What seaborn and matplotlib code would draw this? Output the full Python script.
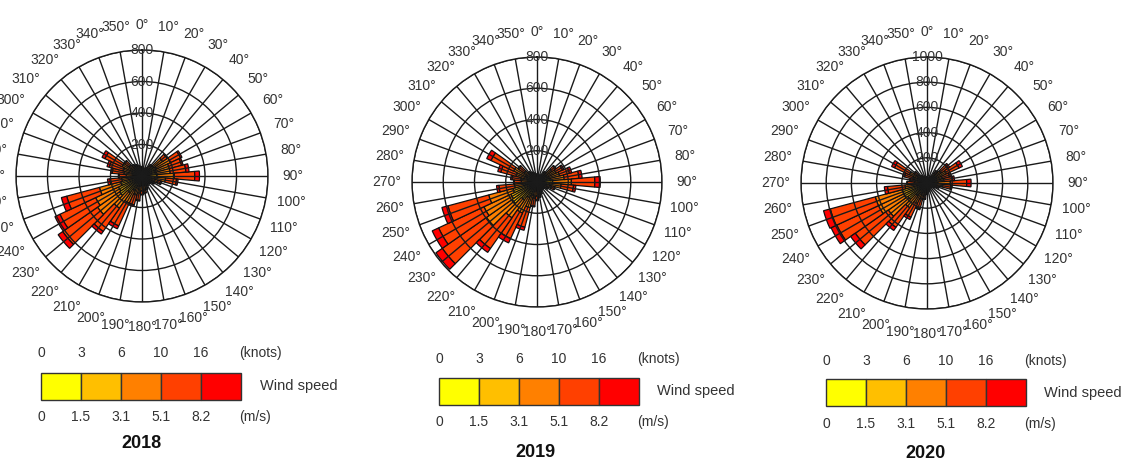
import numpy as np
import pandas as pd
import matplotlib
matplotlib.use("Agg")
import matplotlib.pyplot as plt
import seaborn as sns

# ---------------------------------------------------------------------------
# Data: counts per 10-degree sector, stacked by wind speed class
# ---------------------------------------------------------------------------
directions = list(range(0, 360, 10))
speed_classes = ["0-1.5", "1.5-3.1", "3.1-5.1", "5.1-8.2", ">8.2"]
class_colors = ["#FFFF00", "#FFBF00", "#FF8000", "#FF4000", "#FF0000"]
knots_labels = ["0", "3", "6", "10", "16"]
ms_labels = ["0", "1.5", "3.1", "5.1", "8.2"]
years = ["2018", "2019", "2020"]

#            0   10  20  30  40  50  60  70  80  90 100 110 120 130 140 150 160 170 180 190 200 210 220 230 240 250 260 270 280 290 300 310 320 330 340 350
c1_2018 = [15, 15, 15, 15, 15, 20, 20, 20, 20, 20, 20, 20, 20, 20, 20, 20, 20, 20, 20, 20, 20, 20, 20, 25, 25, 20, 15, 15, 15, 15, 15, 15, 15, 15, 15, 15]
c2_2018 = [25, 20, 20, 25, 35, 70, 80, 70, 70, 75, 60, 45, 35, 30, 25, 30, 35, 40, 40, 45, 50, 80, 110, 150, 140, 120, 55, 40, 45, 50, 55, 40, 35, 30, 30, 25]
c3_2018 = [15, 12, 12, 15, 28, 70, 100, 90, 90, 110, 70, 40, 25, 15, 12, 15, 25, 30, 35, 45, 55, 90, 120, 170, 160, 140, 60, 45, 55, 60, 70, 45, 25, 25, 20, 15]
c4_2018 = [5, 3, 3, 5, 12, 35, 70, 80, 100, 130, 70, 20, 10, 5, 3, 5, 10, 18, 22, 45, 65, 160, 180, 270, 250, 215, 75, 45, 75, 90, 120, 35, 15, 10, 5, 5]
c5_2018 = [0, 0, 0, 0, 0, 5, 10, 10, 20, 30, 10, 5, 0, 0, 0, 0, 0, 2, 3, 5, 10, 20, 20, 35, 35, 35, 15, 5, 10, 15, 20, 5, 0, 0, 0, 0]

c1_2019 = [12, 12, 12, 12, 15, 15, 15, 15, 15, 20, 20, 15, 15, 15, 15, 15, 15, 15, 15, 15, 20, 20, 20, 25, 25, 20, 15, 15, 15, 15, 15, 15, 15, 15, 15, 12]
c2_2019 = [20, 16, 16, 20, 30, 50, 55, 60, 70, 80, 60, 40, 30, 25, 20, 25, 30, 35, 40, 45, 70, 90, 120, 170, 160, 140, 60, 40, 40, 55, 65, 40, 30, 28, 25, 20]
c3_2019 = [13, 10, 10, 13, 25, 50, 65, 75, 90, 120, 75, 40, 25, 15, 12, 15, 25, 30, 35, 45, 80, 110, 140, 200, 190, 160, 70, 45, 50, 70, 85, 45, 25, 20, 15, 13]
c4_2019 = [5, 2, 2, 5, 10, 30, 45, 65, 95, 150, 80, 22, 10, 5, 3, 5, 10, 18, 25, 50, 130, 180, 240, 345, 320, 270, 100, 45, 55, 100, 160, 45, 10, 7, 5, 5]
c5_2019 = [0, 0, 0, 0, 0, 5, 10, 15, 20, 35, 15, 3, 0, 0, 0, 0, 0, 2, 5, 5, 20, 30, 30, 50, 45, 40, 15, 5, 10, 20, 30, 5, 0, 0, 0, 0]

c1_2020 = [12, 12, 12, 12, 15, 15, 15, 15, 15, 15, 15, 15, 15, 12, 12, 12, 12, 15, 15, 15, 15, 20, 20, 25, 25, 25, 15, 15, 15, 15, 15, 15, 15, 12, 12, 12]
c2_2020 = [20, 16, 16, 22, 40, 55, 65, 50, 55, 70, 50, 35, 28, 20, 16, 16, 22, 28, 32, 40, 55, 70, 100, 160, 180, 180, 70, 40, 38, 45, 60, 38, 28, 22, 20, 16]
c3_2020 = [13, 10, 10, 18, 40, 70, 90, 60, 65, 100, 60, 30, 20, 13, 10, 10, 18, 20, 28, 40, 65, 90, 120, 190, 220, 220, 90, 45, 42, 55, 80, 40, 20, 18, 13, 10]
c4_2020 = [5, 2, 2, 8, 22, 65, 110, 60, 70, 130, 65, 18, 7, 5, 2, 2, 8, 7, 15, 32, 75, 120, 190, 320, 365, 370, 140, 55, 40, 70, 130, 32, 7, 8, 5, 2]
c5_2020 = [0, 0, 0, 0, 3, 15, 30, 15, 15, 35, 10, 2, 0, 0, 0, 0, 0, 0, 0, 3, 10, 20, 30, 45, 50, 55, 25, 5, 5, 15, 25, 5, 0, 0, 0, 0]

rings_2018 = [200, 400, 600, 800]
rings_2019 = [200, 400, 600, 800]
rings_2020 = [200, 400, 600, 800, 1000]

year_data = {
    "2018": [c1_2018, c2_2018, c3_2018, c4_2018, c5_2018],
    "2019": [c1_2019, c2_2019, c3_2019, c4_2019, c5_2019],
    "2020": [c1_2020, c2_2020, c3_2020, c4_2020, c5_2020],
}
year_rings = {"2018": rings_2018, "2019": rings_2019, "2020": rings_2020}

rows = []
for yr, classes in year_data.items():
    for cls, vals in zip(speed_classes, classes):
        assert len(vals) == len(directions)
        for d, v in zip(directions, vals):
            rows.append({"year": yr, "direction": d, "speed": cls, "count": v})
df = pd.DataFrame(rows)

# ---------------------------------------------------------------------------
# Style
# ---------------------------------------------------------------------------
sns.set_theme(style="white")
plt.rcParams["font.family"] = ["Liberation Sans", "DejaVu Sans"]
palette = sns.color_palette(class_colors)

W, H = 1121, 461
fig = plt.figure(figsize=(W / 100, H / 100), dpi=100)

# polar axes placement in pixels: (center x, center y, radius)
panels = {"2018": (142, 176, 126), "2019": (537, 182, 125), "2020": (927, 183, 126)}

# legend placement in pixels: box left, box top, knots y, m/s y, label x, label y, title x, title y
legends = {
    "2018": (41, 373, 353, 417, 260, 386, 141, 443),
    "2019": (439, 378, 359, 422, 657, 391, 535, 452),
    "2020": (826, 379, 361, 424, 1044, 393, 925, 453),
}

for yr in years:
    cx, cy, rad = panels[yr]
    rect = [(cx - rad) / W, (H - cy - rad) / H, 2 * rad / W, 2 * rad / H]
    ax = fig.add_axes(rect, projection="polar")
    ax.set_theta_zero_location("N")
    ax.set_theta_direction(-1)
    rings = year_rings[yr]
    rmax = rings[-1]

    sub = df[df["year"] == yr].pivot(index="direction", columns="speed", values="count")[speed_classes]
    theta = np.deg2rad(sub.index.values)
    bottom = np.zeros(len(sub))
    for cls, col in zip(speed_classes, palette):
        ax.bar(theta, sub[cls].values, width=np.deg2rad(10), bottom=bottom,
               color=col, edgecolor="#111111", linewidth=0.9, zorder=2)
        bottom += sub[cls].values

    ax.set_ylim(0, rmax)
    ax.set_xticks(np.deg2rad(directions))
    ax.set_xticklabels([])
    ax.set_yticks(rings)
    ax.set_yticklabels([])
    ax.set_axisbelow(False)
    ax.grid(True, color="#1a1a1a", linewidth=1.0, zorder=3)
    ax.spines["polar"].set_color("#1a1a1a")
    ax.spines["polar"].set_linewidth(1.0)

    for d in directions:
        ax.text(np.deg2rad(d), rmax * 1.2, f"{d}°", ha="center", va="center",
                fontsize=10, color="#333333", clip_on=False)
    for r in rings:
        ax.text(0, r, str(r), ha="center", va="center", fontsize=10,
                color="#333333", zorder=4)

# ---------------------------------------------------------------------------
# Legends (pixel coordinates on an overlay axes)
# ---------------------------------------------------------------------------
lax = fig.add_axes([0, 0, 1, 1], facecolor="none")
lax.set_xlim(0, W)
lax.set_ylim(H, 0)
lax.axis("off")

box_w, box_h = 200, 27
step = box_w / len(speed_classes)
for yr in years:
    bx, by, ky, my, wx, wy, tx, ty = legends[yr]
    lefts = [bx + i * step for i in range(len(speed_classes))]
    lax.bar(lefts, box_h, width=step, bottom=by, align="edge",
            color=palette, edgecolor="#333333", linewidth=1.0)
    for i, (kn, ms) in enumerate(zip(knots_labels, ms_labels)):
        lax.text(bx + i * step, ky, kn, ha="center", va="center", fontsize=10, color="#333333")
        lax.text(bx + i * step, my, ms, ha="center", va="center", fontsize=10, color="#333333")
    lax.text(bx + box_w - 2, ky, "(knots)", ha="left", va="center", fontsize=10, color="#333333")
    lax.text(bx + box_w - 2, my, "(m/s)", ha="left", va="center", fontsize=10, color="#333333")
    lax.text(wx, wy, "Wind speed", ha="left", va="center", fontsize=10.5, color="#333333")
    lax.text(tx, ty, yr, ha="center", va="center", fontsize=13, fontweight="bold", color="#111111")

fig.savefig("out.png", dpi=100)
